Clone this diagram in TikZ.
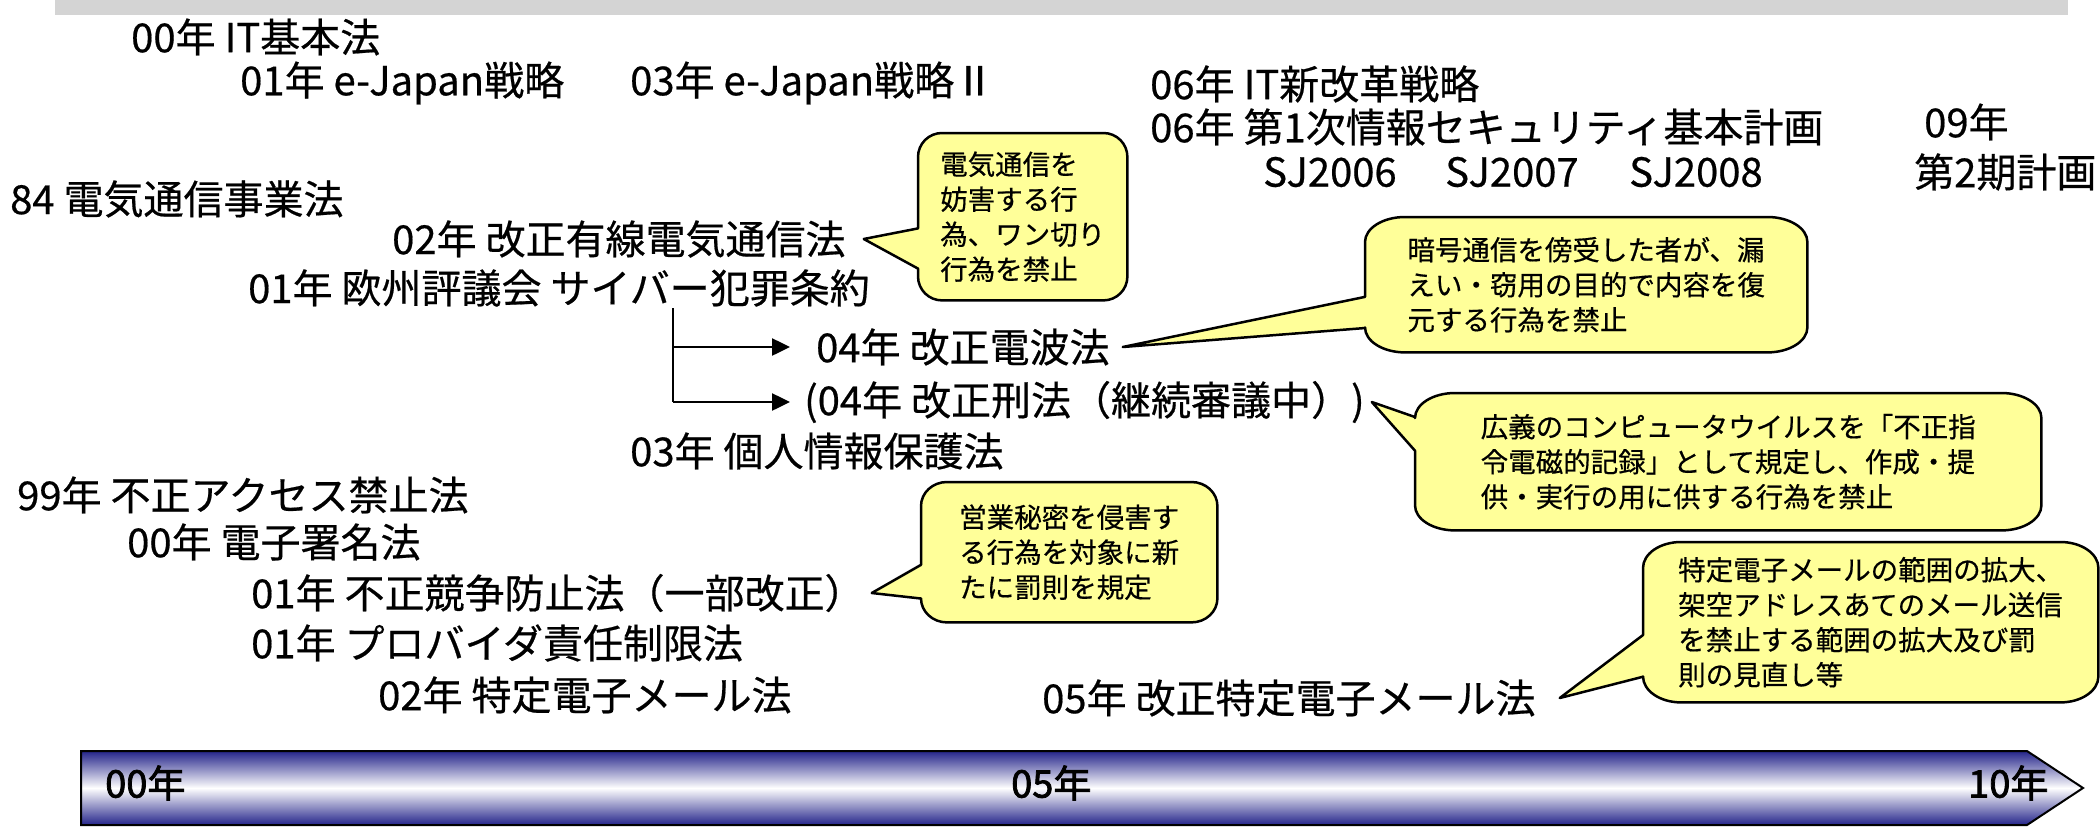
\documentclass[tikz,border=0pt]{standalone}
\usepackage{fontspec}
\setmainfont{Noto Sans CJK JP}[FakeBold=0.5]
\newfontfamily\jpbold{Noto Sans CJK JP}[FakeBold=2]
\usetikzlibrary{arrows.meta,calc,backgrounds}
\definecolor{balloonfill}{RGB}{255,255,153}
\definecolor{tlnavy}{RGB}{36,36,138}
\definecolor{stripgray}{RGB}{212,212,212}
\tikzset{
  law/.style={anchor=west, inner sep=0pt, font=\fontsize{40}{48}\selectfont},
  note/.style={anchor=north west, inner sep=0pt, align=left, font=\fontsize{27.5}{35}\selectfont},
  balloonline/.style={draw=black, fill=balloonfill, line width=2.5pt, line join=round},
  branch/.style={line width=2.5pt, -{Triangle[length=18pt,width=17pt]}},
  tick/.style={anchor=west, inner sep=0pt, font=\jpbold\fontsize{38}{44}\selectfont},
  timeline/.style={draw=black, line width=2pt, top color=tlnavy, bottom color=tlnavy, middle color=white},
}
\newcommand\mkballoon[6]{%
  \draw[balloonline] (#2)
    -- ($(#1.north west)!#3!(#1.south west)$)
    -- ([yshift=-#6pt]#1.north west)
    arc[start angle=180, end angle=90, x radius=#5pt, y radius=#6pt]
    -- ([xshift=-#5pt]#1.north east)
    arc[start angle=90, end angle=0, x radius=#5pt, y radius=#6pt]
    -- ([yshift=#6pt]#1.south east)
    arc[start angle=0, end angle=-90, x radius=#5pt, y radius=#6pt]
    -- ([xshift=#5pt]#1.south west)
    arc[start angle=-90, end angle=-180, x radius=#5pt, y radius=#6pt]
    -- ($(#1.north west)!#4!(#1.south west)$)
    -- cycle;}
\begin{document}
\begin{tikzpicture}[x=1pt, y=1pt]
\useasboundingbox (0,0) rectangle (2100,-827);
% top strip
\fill[stripgray] (55,0) rectangle (2068,-15);

% timeline arrow
\draw[timeline] (81,-751) -- (2027,-751) -- (2083,-788) -- (2027,-825) -- (81,-825) -- cycle;
\node[tick] (t00) at (105,-783) {00年};
\node[tick] (t05) at (1011,-783) {05年};
\node[tick] (t10) at (1968,-783) {10年};

% laws and plans
\node[law] (itkihon) at (131,-37) {00年 IT基本法};
\node[law] (ejapan) at (240,-83) {01年 e-Japan戦略};
\node[law] (ejapan2) at (630,-83) {03年 e-Japan戦略Ⅱ};
\node[law] (itshin) at (1150,-84) {06年 IT新改革戦略};
\node[law] (sec1) at (1150,-127) {06年 第1次情報セキュリティ基本計画};
\node[law] (sj06) at (1263,-172) {SJ2006};
\node[law] (sj07) at (1445,-172) {SJ2007};
\node[law] (sj08) at (1629,-172) {SJ2008};
\node[law] (y09) at (1924,-122) {09年};
\node[law] (ki2) at (1914,-172) {第2期計画};
\node[law] (denki) at (10,-199) {84 電気通信事業法};
\node[law] (yusen) at (392,-239) {02年 改正有線電気通信法};
\node[law] (cyber) at (248,-288) {01年 欧州評議会 サイバー犯罪条約};
\node[law] (denpa) at (816,-347) {04年 改正電波法};
\node[law] (keiho) at (804,-402) {(04年 改正刑法（継続審議中）)};
\node[law] (kojin) at (630,-451) {03年 個人情報保護法};
\node[law] (fusei) at (17,-495) {99年 不正アクセス禁止法};
\node[law] (shomei) at (127,-542) {00年 電子署名法};
\node[law] (kyoso) at (251,-593) {01年 不正競争防止法（一部改正）};
\node[law] (provider) at (251,-643) {01年 プロバイダ責任制限法};
\node[law] (tokutei) at (378,-695) {02年 特定電子メール法};
\node[law] (kaisei) at (1042,-698) {05年 改正特定電子メール法};

% branch arrows
\coordinate (split) at (673,-308);
\draw[line width=2.5pt] (split) -- (split |- keiho.west);
\draw[branch] (split |- denpa.west) -- ([xshift=-26pt]denpa.west);
\draw[branch] (split |- keiho.west) -- ([xshift=-14pt]keiho.west);

% callout texts
\node[note, minimum width=209pt, minimum height=167pt] (n1) at (918,-133)
  {電気通信を\\妨害する行\\為、ワン切り\\行為を禁止};
\node[note, minimum width=442pt, minimum height=135pt] (n2) at (1365,-217)
  {暗号通信を傍受した者が、漏\\えい・窃用の目的で内容を復\\元する行為を禁止};
\node[note, minimum width=626pt, minimum height=137pt] (n3) at (1415,-393)
  {広義のコンピュータウイルスを「不正指\\令電磁的記録」として規定し、作成・提\\供・実行の用に供する行為を禁止};
\node[note, minimum width=296pt, minimum height=140pt] (n4) at (921,-482)
  {営業秘密を侵害す\\る行為を対象に新\\たに罰則を規定};
\node[note, minimum width=455pt, minimum height=160pt] (n5) at (1643,-542)
  {特定電子メールの範囲の拡大、\\架空アドレスあてのメール送信\\を禁止する範囲の拡大及び罰\\則の見直し等};

\begin{scope}[on background layer]
\mkballoon{n1}{[xshift=18pt]yusen.east}{0.57}{0.81}{24}{24}
\mkballoon{n2}{[xshift=13pt]denpa.east}{0.59}{0.82}{40}{25}
\mkballoon{n3}{[xshift=7pt]keiho.east}{0.175}{0.42}{40}{25}
\mkballoon{n4}{[xshift=7pt]kyoso.east}{0.59}{0.83}{26}{24}
\mkballoon{n5}{[xshift=24pt]kaisei.east}{0.58}{0.84}{38}{26}
\end{scope}
\end{tikzpicture}
\end{document}
